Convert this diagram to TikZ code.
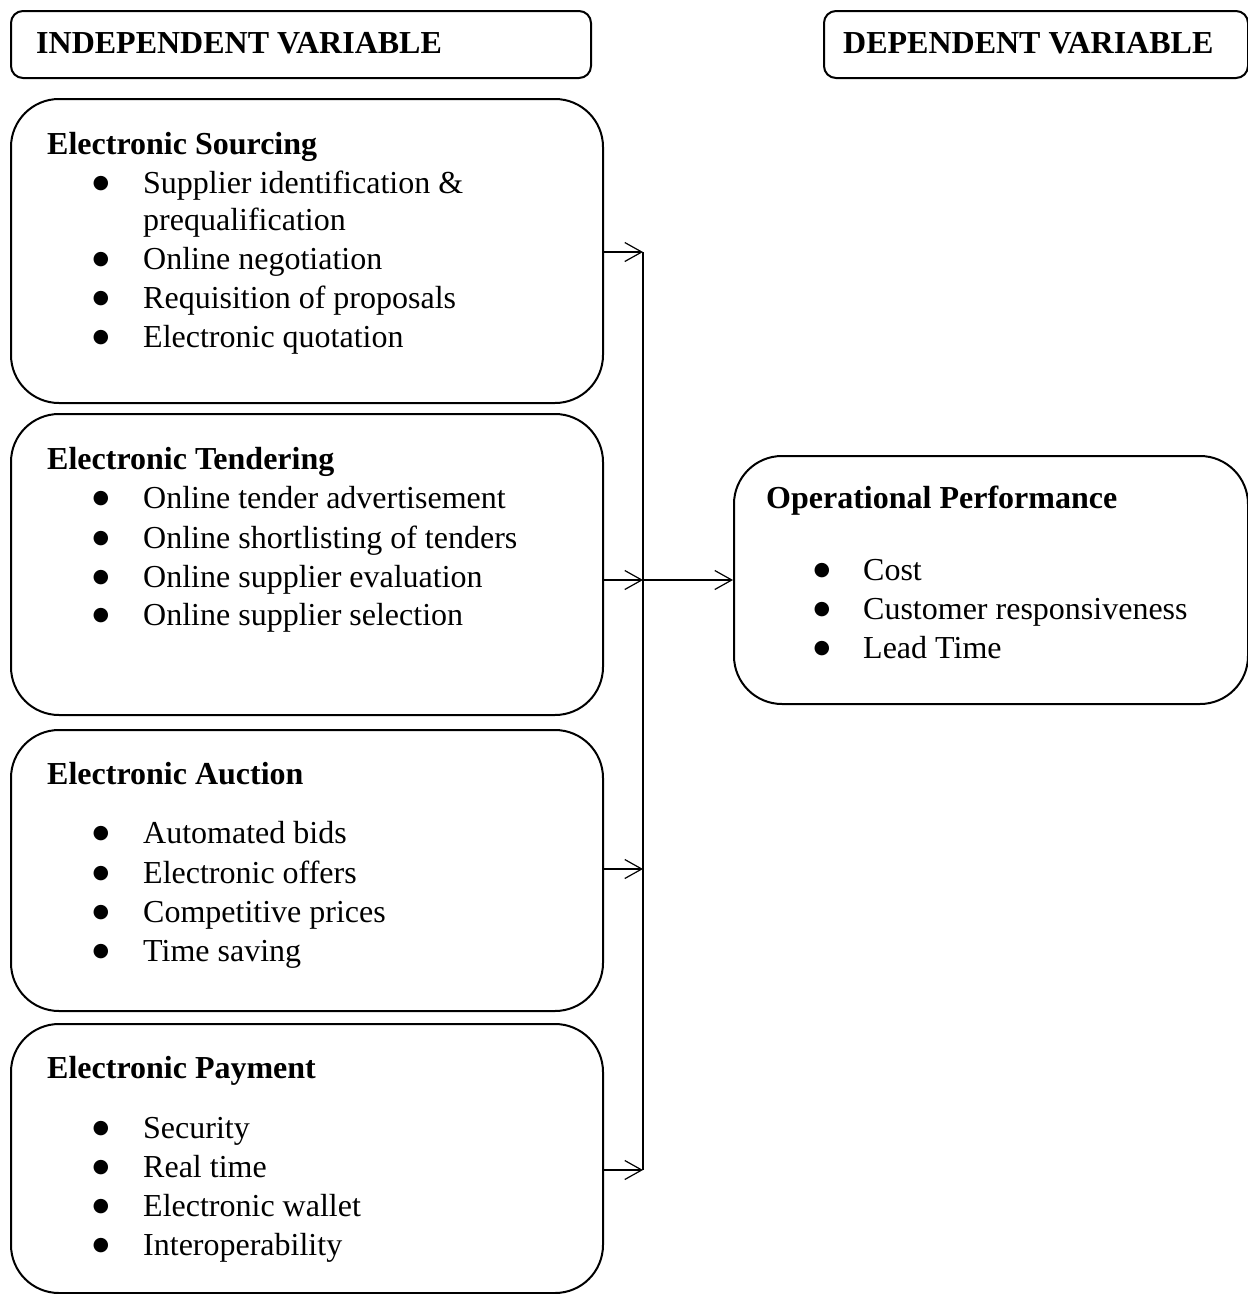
\documentclass[tikz,border=0pt]{standalone}
\usepackage{fontspec}
\setmainfont{Liberation Serif}
\newfontfamily\bulletfont{DejaVu Sans}
\usetikzlibrary{arrows.meta}
\begin{document}
\begin{tikzpicture}[x=1pt,y=-1pt,
  hdrbox/.style={draw,line width=2pt,rounded corners=12pt,inner sep=0pt,anchor=north west},
  bigbox/.style={draw,line width=2pt,rounded corners=48pt,inner sep=0pt,anchor=north west},
  txt/.style={anchor=base west,inner sep=0pt,font=\fontsize{32}{38}\selectfont},
  head/.style={txt,font=\fontsize{32}{38}\selectfont\bfseries},
  bul/.style={anchor=base,inner sep=0pt,yshift=4.5pt,font=\bulletfont\fontsize{19}{22}\selectfont},
  conn/.style={line width=1.2pt,-{Straight Barb[length=17pt,width=19pt,line width=1.2pt]}},
  trunk/.style={line width=1.2pt}]
\useasboundingbox (0,0) rectangle (1248,1294);

% header boxes
\node[hdrbox,minimum width=580pt,minimum height=67pt] (indep) at (10,10) {};
\node[head] (indept) at (36,53) {INDEPENDENT VARIABLE};
\node[hdrbox,minimum width=424pt,minimum height=67pt] (dep) at (823,10) {};
\node[head] (dept) at (843,53) {DEPENDENT VARIABLE};

% Electronic Sourcing
\node[bigbox,minimum width=592pt,minimum height=304pt] (src) at (10,98) {};
\node[head] (srch) at (47,154) {Electronic Sourcing};
\node[bul] (srcb1) at (101,193) {●};
\node[txt] (srct1) at (143,193) {Supplier identification \&};
\node[txt] (srct1b) at (143,230) {prequalification};
\node[bul] (srcb2) at (101,269) {●};
\node[txt] (srct2) at (143,269) {Online negotiation};
\node[bul] (srcb3) at (101,308) {●};
\node[txt] (srct3) at (143,308) {Requisition of proposals};
\node[bul] (srcb4) at (101,347) {●};
\node[txt] (srct4) at (143,347) {Electronic quotation};

% Electronic Tendering
\node[bigbox,minimum width=592pt,minimum height=301pt] (ten) at (10,413) {};
\node[head] (tenh) at (47,469) {Electronic Tendering};
\node[bul] (tenb1) at (101,508) {●};
\node[txt] (tent1) at (143,508) {Online tender advertisement};
\node[bul] (tenb2) at (101,548) {●};
\node[txt] (tent2) at (143,548) {Online shortlisting of tenders};
\node[bul] (tenb3) at (101,587) {●};
\node[txt] (tent3) at (143,587) {Online supplier evaluation};
\node[bul] (tenb4) at (101,625) {●};
\node[txt] (tent4) at (143,625) {Online supplier selection};

% Electronic Auction
\node[bigbox,minimum width=592pt,minimum height=281pt] (auc) at (10,729) {};
\node[head] (auch) at (47,784) {Electronic Auction};
\node[bul] (aucb1) at (101,843) {●};
\node[txt] (auct1) at (143,843) {Automated bids};
\node[bul] (aucb2) at (101,883) {●};
\node[txt] (auct2) at (143,883) {Electronic offers};
\node[bul] (aucb3) at (101,922) {●};
\node[txt] (auct3) at (143,922) {Competitive prices};
\node[bul] (aucb4) at (101,961) {●};
\node[txt] (auct4) at (143,961) {Time saving};

% Electronic Payment
\node[bigbox,minimum width=592pt,minimum height=269pt] (pay) at (10,1023) {};
\node[head] (payh) at (47,1078) {Electronic Payment};
\node[bul] (payb1) at (101,1138) {●};
\node[txt] (payt1) at (143,1138) {Security};
\node[bul] (payb2) at (101,1177) {●};
\node[txt] (payt2) at (143,1177) {Real time};
\node[bul] (payb3) at (101,1216) {●};
\node[txt] (payt3) at (143,1216) {Electronic wallet};
\node[bul] (payb4) at (101,1255) {●};
\node[txt] (payt4) at (143,1255) {Interoperability};

% Operational Performance
\node[bigbox,minimum width=514pt,minimum height=248pt] (op) at (733,455) {};
\node[head] (oph) at (766,508) {Operational Performance};
\node[bul] (opb1) at (822,580) {●};
\node[txt] (opt1) at (863,580) {Cost};
\node[bul] (opb2) at (822,619) {●};
\node[txt] (opt2) at (863,619) {Customer responsiveness};
\node[bul] (opb3) at (822,658) {●};
\node[txt] (opt3) at (863,658) {Lead Time};

% connectors
\coordinate (j1) at (643,252);
\coordinate (j2) at (643,580);
\coordinate (j3) at (643,869);
\coordinate (j4) at (643,1170);
\draw[trunk] (j1) -- (j4);
\draw[conn] (j1 -| src.east) -- (j1);
\draw[conn] (j2 -| ten.east) -- (j2);
\draw[conn] (j3 -| auc.east) -- (j3);
\draw[conn] (j4 -| pay.east) -- (j4);
\draw[conn] (j2) -- (op.west);
\end{tikzpicture}
\end{document}
